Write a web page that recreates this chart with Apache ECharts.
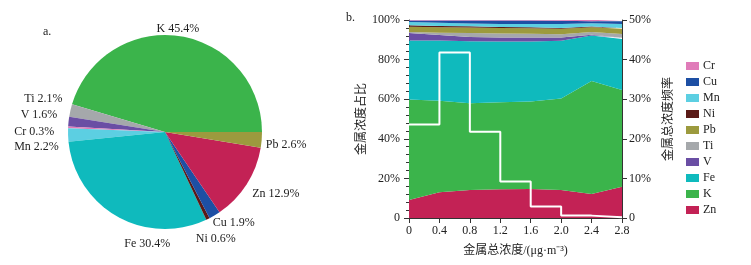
<!DOCTYPE html>
<html>
<head>
<meta charset="utf-8">
<script src="https://cdn.jsdelivr.net/npm/echarts@6/dist/echarts.min.js"></script>
<style>
html, body { margin: 0; padding: 0; background: #fff; }
#chart { width: 751px; height: 265px; }
</style>
</head>
<body>
<div id="chart"></div>
<script>
var FONT = 'Liberation Serif, "Noto Sans CJK SC", serif';

// a. 饼图：各金属平均占比
var pieNames = ['K', 'Ti', 'V', 'Cr', 'Mn', 'Fe', 'Ni', 'Cu', 'Zn', 'Pb'];
var pieValues = [45.4, 2.1, 1.6, 0.3, 2.2, 30.4, 0.6, 1.9, 12.9, 2.6];

// b. 堆叠面积：不同金属总浓度下的占比
var xLabels = ['0', '0.4', '0.8', '1.2', '1.6', '2.0', '2.4', '2.8'];
var zn = [9.1, 13.0, 14.1, 14.5, 14.6, 14.1, 12.1, 15.8];
var k  = [50.8, 46.2, 43.8, 43.9, 44.3, 46.3, 57.1, 48.8];
var fe = [29.7, 30.4, 31.4, 30.7, 30.2, 29.1, 23.0, 25.8];
var v  = [3.8, 2.8, 2.1, 2.1, 2.1, 1.7, 0.4, 0.6];
var ti = [0.6, 1.2, 2.0, 2.0, 1.8, 1.6, 1.4, 1.9];
var pb = [2.6, 2.8, 2.8, 2.8, 2.8, 2.8, 2.3, 2.7];
var ni = [0.7, 0.6, 0.6, 0.5, 0.5, 0.4, 0.4, 0.4];
var mn = [1.7, 1.6, 1.4, 1.5, 1.7, 2.0, 1.7, 2.0];
var cu = [0.8, 1.2, 1.6, 1.8, 1.7, 1.6, 1.0, 1.4];
var cr = [0.2, 0.2, 0.2, 0.2, 0.3, 0.4, 0.6, 0.6];

// 金属总浓度频率（每 0.4 一档，最后一个值重复以画出末段台阶）
var freq = [23.6, 41.8, 21.8, 9.2, 2.9, 0.6, 0.2, 0.2];

var colors = {
    Cr: '#e07cb9', Cu: '#1d4fa4', Mn: '#5ccfe2', Ni: '#5a1a17', Pb: '#9c9a3e',
    Ti: '#a5a8ab', V: '#6a4ea4', Fe: '#0fbabd', K: '#3bb44b', Zn: '#c32255'
};

// 饼图标签微调
var labelShift = {
    K: [-28, -3], Pb: [0, 5], Zn: [-2, 7], Cu: [-19, 4], Ni: [-19, 6],
    Fe: [60, 24], Mn: [-7, -5], Cr: [-10, -6], V: [-7, -9], Ti: [-4, -11]
};

var stackOrder = [['Zn', zn], ['K', k], ['Fe', fe], ['V', v], ['Ti', ti],
                  ['Pb', pb], ['Ni', ni], ['Mn', mn], ['Cu', cu], ['Cr', cr]];

var chart = echarts.init(document.getElementById('chart'));

var series = [{
    type: 'pie',
    center: [165, 132],
    radius: 97,
    startAngle: 0,
    clockwise: false,
    avoidLabelOverlap: true,
    data: pieNames.map(function (n, i) {
        return { name: n, value: pieValues[i], itemStyle: { color: colors[n] } };
    }),
    label: {
        show: true,
        position: 'outside',
        formatter: function (p) { return p.name + ' ' + p.value + '%'; },
        fontFamily: FONT,
        fontSize: 12,
        color: '#222'
    },
    labelLine: { show: false, length: 4, length2: 0 },
    labelLayout: function (p) {
        var s = labelShift[p.text.split(' ')[0]] || [0, 0];
        return { dx: s[0], dy: s[1] };
    },
    emphasis: { disabled: true }
}];

stackOrder.forEach(function (s) {
    series.push({
        name: s[0],
        type: 'line',
        stack: 'pct',
        symbol: 'none',
        yAxisIndex: 0,
        lineStyle: { width: 0 },
        itemStyle: { color: colors[s[0]] },
        areaStyle: { color: colors[s[0]], opacity: 1 },
        data: s[1]
    });
});

series.push({
    name: 'freq',
    type: 'line',
    step: 'end',
    symbol: 'none',
    yAxisIndex: 1,
    lineStyle: { color: '#fff', width: 2 },
    data: freq,
    z: 10
});

var axisText = { fontFamily: FONT, fontSize: 12, color: '#222' };

var option = {
    animation: false,
    textStyle: { fontFamily: FONT },
    graphic: [
        { type: 'text', left: 43, top: 26, style: { text: 'a.', font: '12px ' + FONT, fill: '#222' } },
        { type: 'text', left: 346, top: 12, style: { text: 'b.', font: '12px ' + FONT, fill: '#222' } }
    ],
    legend: {
        orient: 'vertical',
        left: 686,
        top: 60,
        padding: 0,
        itemWidth: 13,
        itemHeight: 8,
        itemGap: 4,
        icon: 'rect',
        data: ['Cr', 'Cu', 'Mn', 'Ni', 'Pb', 'Ti', 'V', 'Fe', 'K', 'Zn'],
        textStyle: { fontFamily: FONT, fontSize: 12, color: '#222', padding: [0, 0, 0, -1] }
    },
    grid: { left: 409, right: 129, top: 20, bottom: 47 },
    xAxis: {
        type: 'category',
        boundaryGap: false,
        data: xLabels,
        name: '金属总浓度/(μg·m⁻³)',
        nameLocation: 'middle',
        nameGap: 27,
        nameTextStyle: axisText,
        axisLine: { lineStyle: { color: '#333' } },
        axisTick: { show: true, length: 5, lineStyle: { color: '#333' } },
        axisLabel: { fontFamily: FONT, fontSize: 12, color: '#222', margin: 7 },
        splitLine: { show: false }
    },
    yAxis: [{
        type: 'value',
        min: 0,
        max: 100,
        interval: 20,
        name: '金属浓度占比',
        nameLocation: 'middle',
        nameRotate: 90,
        nameGap: 39,
        nameTextStyle: axisText,
        axisLine: { show: true, lineStyle: { color: '#333' } },
        axisTick: { show: true, length: 5, lineStyle: { color: '#333' } },
        minorTick: { show: true, splitNumber: 5, length: 3, lineStyle: { color: '#333' } },
        axisLabel: {
            fontFamily: FONT, fontSize: 12, color: '#222', margin: 9,
            formatter: function (val) { return val === 0 ? '0' : val + '%'; }
        },
        splitLine: { show: false }
    }, {
        type: 'value',
        position: 'right',
        min: 0,
        max: 50,
        interval: 10,
        name: '金属总浓度频率',
        nameLocation: 'middle',
        nameRotate: 90,
        nameGap: 41,
        nameTextStyle: axisText,
        axisLine: { show: true, lineStyle: { color: '#333' } },
        axisTick: { show: true, length: 5, lineStyle: { color: '#333' } },
        axisLabel: {
            fontFamily: FONT, fontSize: 12, color: '#222', margin: 7,
            formatter: function (val) { return val === 0 ? '0' : val + '%'; }
        },
        splitLine: { show: false }
    }],
    series: series
};

chart.setOption(option);
window.addEventListener('resize', function () {
    chart.resize();
});
</script>
</body>
</html>
